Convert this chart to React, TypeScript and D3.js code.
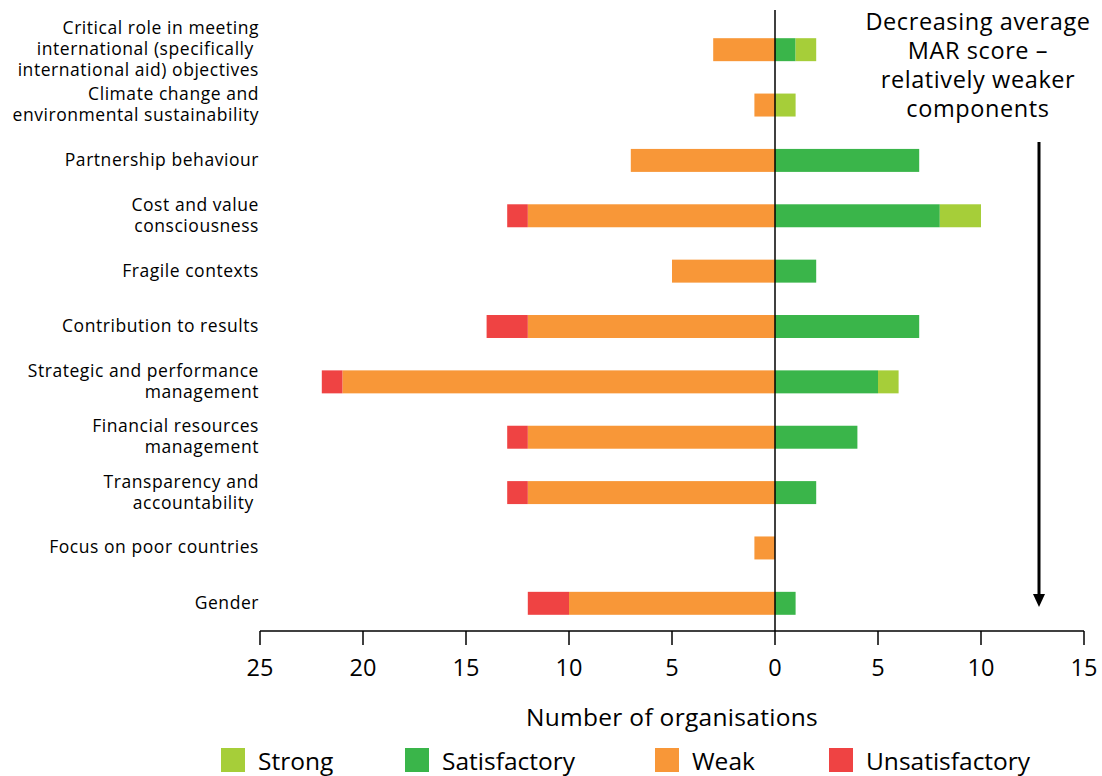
import React from "react";
import * as d3 from "d3";

const categories: string[][] = [
  ["Critical role in meeting", "international (specifically\u00a0", "international aid) objectives"],
  ["Climate change and", "environmental sustainability"],
  ["Partnership behaviour"],
  ["Cost and value", "consciousness"],
  ["Fragile contexts"],
  ["Contribution to results"],
  ["Strategic and performance", "management"],
  ["Financial resources", "management"],
  ["Transparency and", "accountability\u00a0"],
  ["Focus on poor countries"],
  ["Gender"],
];
const strong = [1, 1, 0, 2, 0, 0, 1, 0, 0, 0, 0];
const satisfactory = [1, 0, 7, 8, 2, 7, 5, 4, 2, 0, 1];
const weak = [3, 1, 7, 12, 5, 12, 21, 12, 12, 1, 10];
const unsatisfactory = [0, 0, 0, 1, 0, 2, 1, 1, 1, 0, 2];
const xTicks = [-25, -20, -15, -10, -5, 0, 5, 10, 15];
const legendItems = ["Strong", "Satisfactory", "Weak", "Unsatisfactory"];
const colors = ["#A6CE39", "#3AB54A", "#F89738", "#EF4343"];
const noteLines = ["Decreasing average", "MAR score \u2013", "relatively weaker", "components"];

const FONT = "'Open Sans', 'Noto Sans', sans-serif";

export default function App() {
  const W = 1102, H = 776;
  const x = d3.scaleLinear().domain([-25, 15]).range([260, 1084]);
  const y = d3.scaleBand<number>().domain(d3.range(categories.length)).range([22, 631]).paddingInner(0.585).paddingOuter(0.2925);
  const bw = y.bandwidth();

  const segs: { x0: number; x1: number; c: string; i: number }[] = [];
  categories.forEach((_, i) => {
    let s = 0;
    [[satisfactory[i], colors[1]], [strong[i], colors[0]]].forEach(([v, c]) => {
      if ((v as number) > 0) segs.push({ x0: s, x1: s + (v as number), c: c as string, i });
      s += v as number;
    });
    let l = 0;
    [[weak[i], colors[2]], [unsatisfactory[i], colors[3]]].forEach(([v, c]) => {
      if ((v as number) > 0) segs.push({ x0: l - (v as number), x1: l, c: c as string, i });
      l -= v as number;
    });
  });

  const axisY = 631;
  const lineH = 21;
  const legendX = [221, 405, 655, 829];

  return (
    <svg width={W} height={H} style={{ position: "absolute", left: 0, top: 0, background: "#fff" }} fontFamily={FONT}>
      {segs.map((s, k) => (
        <rect key={k} x={x(s.x0)} y={y(s.i)!} width={x(s.x1) - x(s.x0)} height={bw} fill={s.c} />
      ))}
      <line x1={x(0)} x2={x(0)} y1={10} y2={axisY} stroke="#000" strokeWidth={1.5} />
      <line x1={x(-25)} x2={x(15)} y1={axisY} y2={axisY} stroke="#000" strokeWidth={1.5} />
      {xTicks.map((t) => (
        <g key={t}>
          <line x1={x(t)} x2={x(t)} y1={axisY} y2={axisY + 14} stroke="#000" strokeWidth={1.5} />
          <text x={x(t)} y={676} textAnchor="middle" fontSize={23.5} fill="#000">{Math.abs(t)}</text>
        </g>
      ))}
      <text x={x(-5)} y={726} textAnchor="middle" fontSize={24.5} letterSpacing={0.3} fill="#000">Number of organisations</text>
      {categories.map((lines, i) => {
        const cy = y(i)! + bw / 2;
        const top = cy - ((lines.length - 1) * lineH) / 2;
        return (
          <text key={i} textAnchor="end" fontSize={17.5} letterSpacing={0.55} fill="#000" style={{ whiteSpace: "pre" }}>
            {lines.map((ln, j) => (
              <tspan key={j} x={259} y={top + j * lineH + 5.5}>{ln}</tspan>
            ))}
          </text>
        );
      })}
      {noteLines.map((ln, j) => (
        <text key={j} x={978} y={30 + j * 29} textAnchor="middle" fontSize={23.5} letterSpacing={0.6} fill="#000">{ln}</text>
      ))}
      <line x1={1039} x2={1039} y1={142} y2={596} stroke="#000" strokeWidth={3} />
      <path d="M1033,594 L1045,594 L1039,607 Z" fill="#000" />
      {legendItems.map((name, i) => (
        <g key={name}>
          <rect x={legendX[i]} y={748} width={24} height={24} fill={colors[i]} />
          <text x={legendX[i] + 37} y={770} fontSize={24.5} fill="#000">{name}</text>
        </g>
      ))}
    </svg>
  );
}
